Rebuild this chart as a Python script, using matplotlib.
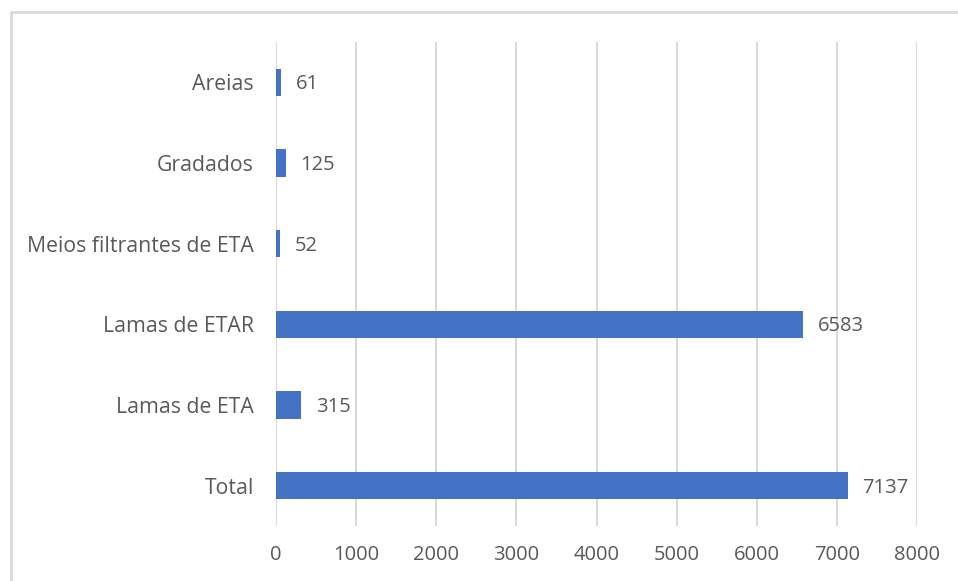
import matplotlib.pyplot as plt
from matplotlib.patches import Rectangle

# Data
categories = ["Areias", "Gradados", "Meios filtrantes de ETA", "Lamas de ETAR", "Lamas de ETA", "Total"]
values = [61, 125, 52, 6583, 315, 7137]
xticks = [0, 1000, 2000, 3000, 4000, 5000, 6000, 7000, 8000]

txt_color = "#595959"
grid_color = "#d9d9d9"
bar_color = "#4472c4"

plt.rcParams['font.family'] = ['Open Sans', 'DejaVu Sans']

W, H = 958, 581
fig = plt.figure(figsize=(W / 100, H / 100), dpi=100)
ax = fig.add_axes([276 / W, 1 - 526 / H, (917 - 276) / W, (526 - 42) / H])

# chart border (runs off the right and bottom of the image)
fig.patches.append(Rectangle((10.5 / W, -0.1), 1.2, 1.1 - 12.5 / H, transform=fig.transFigure,
                             fill=False, edgecolor=grid_color, linewidth=2, clip_on=False))

pos = list(range(len(categories)))[::-1]
ax.barh(pos, values, height=0.34, color=bar_color, zorder=3)

for p, v in zip(pos, values):
    ax.annotate(str(v), (v, p), xytext=(10.5, -1.5), textcoords="offset points",
                va="center", ha="left", fontsize=14.5, color=txt_color)

ax.set_xlim(0, 8000)
ax.set_ylim(-0.5, len(categories) - 0.5)
ax.set_xticks(xticks)
ax.set_xticklabels([str(t) for t in xticks])
ax.set_yticks(pos)
ax.set_yticklabels(categories)
ax.tick_params(axis="both", length=0, labelcolor=txt_color)
ax.tick_params(axis="y", pad=16, labelsize=15.3)
ax.tick_params(axis="x", pad=14, labelsize=14.5)
ax.grid(axis="x", color=grid_color, linewidth=1.5, zorder=0)
for s in ax.spines.values():
    s.set_visible(False)

fig.savefig("out.png", dpi=100)
